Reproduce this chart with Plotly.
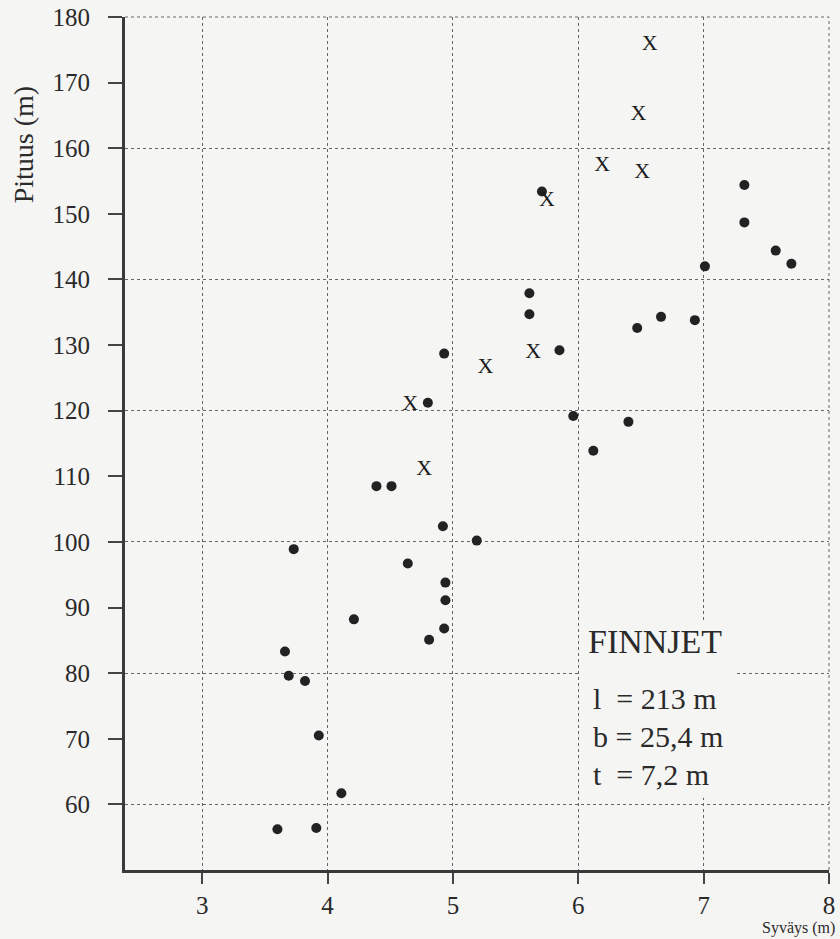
import plotly.graph_objects as go

# Ship draught (m) vs. length (m)
dot_draught = [3.60, 3.91, 4.11, 3.93, 3.82, 3.69, 3.66, 4.81, 4.93, 4.21, 4.94, 4.94,
               4.64, 3.73, 5.19, 4.92, 4.39, 4.51, 6.12, 6.40, 5.96, 4.80, 4.93, 5.85,
               6.47, 6.93, 6.66, 5.61, 5.61, 7.01, 7.70, 7.575, 7.325, 5.71, 7.325]
dot_length = [56.2, 56.4, 61.7, 70.5, 78.8, 79.6, 83.3, 85.1, 86.8, 88.2, 91.1, 93.8,
              96.7, 98.9, 100.2, 102.4, 108.5, 108.5, 113.9, 118.3, 119.2, 121.2, 128.7, 129.2,
              132.6, 133.8, 134.3, 134.7, 137.9, 142.0, 142.4, 144.4, 148.7, 153.4, 154.4]

x_draught = [4.77, 4.66, 5.26, 5.64, 5.75, 6.19, 6.51, 6.48, 6.57]
x_length = [111.0, 121.0, 126.6, 128.9, 152.0, 157.3, 156.3, 165.2, 175.8]

x_ticks = [3, 4, 5, 6, 7, 8]
y_ticks = [60, 70, 80, 90, 100, 110, 120, 130, 140, 150, 160, 170, 180]
y_grid = [60, 80, 100, 120, 140, 160, 180]

ship_name = "FINNJET"
ship_specs = ["l\u00a0 = 213 m", "b = 25,4 m", "t\u00a0 = 7,2 m"]

X_RANGE = [2.384, 8.0]
Y_RANGE = [50, 180]

SERIF = "Liberation Serif"
INK = "#2a2a2a"
BG = "#f5f5f4"
GRID = "#666666"

fig = go.Figure()

fig.add_trace(go.Scatter(
    x=dot_draught, y=dot_length, mode="markers",
    marker=dict(size=10, color="#222222", line=dict(width=0)),
    showlegend=False, hoverinfo="skip",
))

fig.add_trace(go.Scatter(
    x=x_draught, y=x_length, mode="text", text=["X"] * len(x_draught),
    textposition="middle center",
    textfont=dict(family=SERIF, size=22, color="#1a1a1a"),
    yaxis="y2", showlegend=False, hoverinfo="skip",
))

# dotted frame on the top and right edges of the plot area
fig.add_shape(type="line", xref="paper", yref="paper", x0=0, x1=1, y0=1, y1=1,
              line=dict(color=GRID, width=1, dash="dot"), layer="below")
fig.add_shape(type="line", xref="paper", yref="paper", x0=1, x1=1, y0=0, y1=1,
              line=dict(color=GRID, width=1, dash="dot"), layer="below")

# plain panel behind the ship data text
fig.add_shape(type="rect", xref="x", yref="y", x0=6.02, x1=7.25, y0=61, y1=88,
              fillcolor=BG, line=dict(width=0), layer="above")

fig.add_annotation(x=6.06, y=84.9, xref="x", yref="y", text=ship_name,
                   showarrow=False, xanchor="left", yanchor="middle",
                   font=dict(family=SERIF, size=34, color=INK))
spec_y = [76.2, 70.3, 64.5]
for txt, yy in zip(ship_specs, spec_y):
    fig.add_annotation(x=6.1, y=yy, xref="x", yref="y", text=txt,
                       showarrow=False, xanchor="left", yanchor="middle",
                       font=dict(family=SERIF, size=30, color=INK))

# axis titles
fig.add_annotation(x=-0.143, y=0.85, xref="paper", yref="paper", text="Pituus (m)",
                   textangle=-90, showarrow=False, xanchor="center", yanchor="middle",
                   font=dict(family=SERIF, size=28, color=INK))
fig.add_annotation(x=1.012, y=-0.068, xref="paper", yref="paper", text="Syväys (m)",
                   showarrow=False, xanchor="right", yanchor="middle",
                   font=dict(family=SERIF, size=16, color=INK))

fig.update_layout(
    template="none",
    width=840, height=939,
    margin=dict(l=125, r=11, t=17, b=69, pad=0),
    paper_bgcolor=BG, plot_bgcolor=BG,
    font=dict(family=SERIF, size=24, color=INK),
    xaxis=dict(
        range=X_RANGE, tickvals=x_ticks, ticks="outside", ticklen=11, tickwidth=1.5,
        tickcolor="#444444", showline=True, linecolor="#3a3a3a", linewidth=3,
        showgrid=True, gridcolor=GRID, gridwidth=1, griddash="dot",
        zeroline=False, automargin=False,
        tickfont=dict(family=SERIF, size=25, color=INK),
    ),
    yaxis=dict(
        range=Y_RANGE, tickvals=y_ticks, ticks="outside", ticklen=14, tickwidth=1.5,
        tickcolor="#444444", showline=True, linecolor="#3a3a3a", linewidth=3,
        showgrid=False, zeroline=False, ticklabelstandoff=13, automargin=False,
        tickfont=dict(family=SERIF, size=25, color=INK),
    ),
    yaxis2=dict(
        range=Y_RANGE, overlaying="y", tickvals=y_grid, showticklabels=False,
        ticks="", showline=False, zeroline=False, automargin=False,
        showgrid=True, gridcolor=GRID, gridwidth=1, griddash="dot",
    ),
)

fig.write_html("out.html")
